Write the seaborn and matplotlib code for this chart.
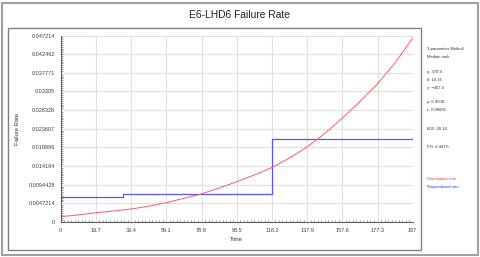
import pandas as pd
import seaborn as sns
import matplotlib.pyplot as plt
from matplotlib.patches import Rectangle
from matplotlib.ticker import AutoMinorLocator

# distribution failure rate
dist_t = [0, 9.85, 19.7, 29.55, 39.4, 49.25, 59.1, 68.95, 78.8, 88.65, 98.5,
          108.35, 118.2, 128.05, 137.9, 147.75, 157.6, 167.45, 177.3, 187.15, 197]
dist_rate = [0.00134, 0.0018, 0.00235, 0.0028, 0.00329, 0.0040, 0.00489, 0.0060,
             0.0071, 0.0086, 0.0102, 0.0119, 0.0138, 0.0162, 0.0190, 0.0224,
             0.0263, 0.0305, 0.0350, 0.0403, 0.0466]

# regionalized rate (step)
reg_t = [0, 34.9, 118.2, 197]
reg_rate = [0.00633, 0.00705, 0.02094, 0.02094]

x_ticks = [0, 19.7, 39.4, 59.1, 78.8, 98.5, 118.2, 137.9, 157.6, 177.3, 197]
y_ticks = [0, 0.0047214, 0.0094428, 0.014164, 0.018886, 0.023607, 0.028328,
           0.03305, 0.037771, 0.042492, 0.047214]
y_tick_labels = ["0", "0.0047214", "0.0094428", "0.014164", "0.018886", "0.023607",
                 "0.028328", "0.03305", "0.037771", "0.042492", "0.047214"]

info_lines = ["3-parameter Weibull", "Median rank", "η: 370.9", "β: 10.16",
              "γ: \u2212457.4", "ρ: 0.9508", "ε: 0.08005", "B10: 20.16",
              "PG: 6.447%"]
info_y = [49, 57, 72, 80, 88, 102, 110, 129, 147]

sns.set_theme(style="white")
plt.rcParams['font.family'] = ['Liberation Sans', 'DejaVu Sans']

fig = plt.figure(figsize=(4.8, 2.57), dpi=100)
W, H = 480, 257

def px(x, y, w, h):
    return (x / W, 1 - (y + h) / H, w / W, h / H)

# frames
fig.patches.append(Rectangle(px(2, 3, 476, 252)[:2], 476 / W, 252 / H,
                             transform=fig.transFigure, fill=False,
                             edgecolor="#a0a0a0", lw=1.5))
fig.patches.append(Rectangle(px(8, 28, 413, 222)[:2], 413 / W, 222 / H,
                             transform=fig.transFigure, fill=False,
                             edgecolor="#808080", lw=1.0))

fig.text(239 / W, 1 - 15 / H, "E6-LHD6 Failure Rate", ha="center", va="center",
         fontsize=7.4, color="#202020")

ax = fig.add_axes(px(60.7, 35.5, 352, 186.5))

df_dist = pd.DataFrame({"Time": dist_t, "Rate": dist_rate})
df_reg = pd.DataFrame({"Time": reg_t, "Rate": reg_rate})

sns.lineplot(data=df_reg, x="Time", y="Rate", ax=ax, color="#5555ff", lw=0.9,
             drawstyle="steps-post")
sns.lineplot(data=df_dist, x="Time", y="Rate", ax=ax, color="#ff5a5a", lw=0.7)

ax.set_xlim(0, 197)
ax.set_ylim(0, 0.047214)
ax.set_xticks(x_ticks)
ax.set_xticklabels([f"{v:g}" for v in x_ticks])
ax.set_yticks(y_ticks)
ax.set_yticklabels(y_tick_labels)
ax.xaxis.set_minor_locator(AutoMinorLocator(10))
ax.yaxis.set_minor_locator(AutoMinorLocator(10))
ax.grid(True, which="major", color="#e0e0e0", lw=0.8)
ax.set_axisbelow(True)
for s in ["top", "right"]:
    ax.spines[s].set_visible(False)
for s in ["left", "bottom"]:
    ax.spines[s].set_color("#606060")
    ax.spines[s].set_linewidth(0.8)
ax.tick_params(which="major", length=3, width=0.6, color="#505050",
               labelsize=4, labelcolor="#404040", pad=1, direction="out")
ax.tick_params(which="minor", length=1.5, width=0.4, color="#505050",
               direction="in", bottom=True, left=True)
ax.set_xlabel("Time", fontsize=4.2, color="#303030", labelpad=3)
ax.set_ylabel("Failure Rate", fontsize=4.2, color="#303030", labelpad=10)
ax.yaxis.set_label_coords(-0.115, 0.5)

# right info panel
for line, y in zip(info_lines, info_y):
    fig.text(427 / W, 1 - y / H, line, fontsize=3.0, color="#303030",
             va="center", ha="left")
fig.text(427 / W, 1 - 178.5 / H, "Distribution rate", fontsize=3.0,
         color="#ff3030", va="center", ha="left")
fig.text(427 / W, 1 - 187 / H, "Regionalized rate", fontsize=3.0,
         color="#3030ff", va="center", ha="left")

fig.savefig("out.png", dpi=100)
